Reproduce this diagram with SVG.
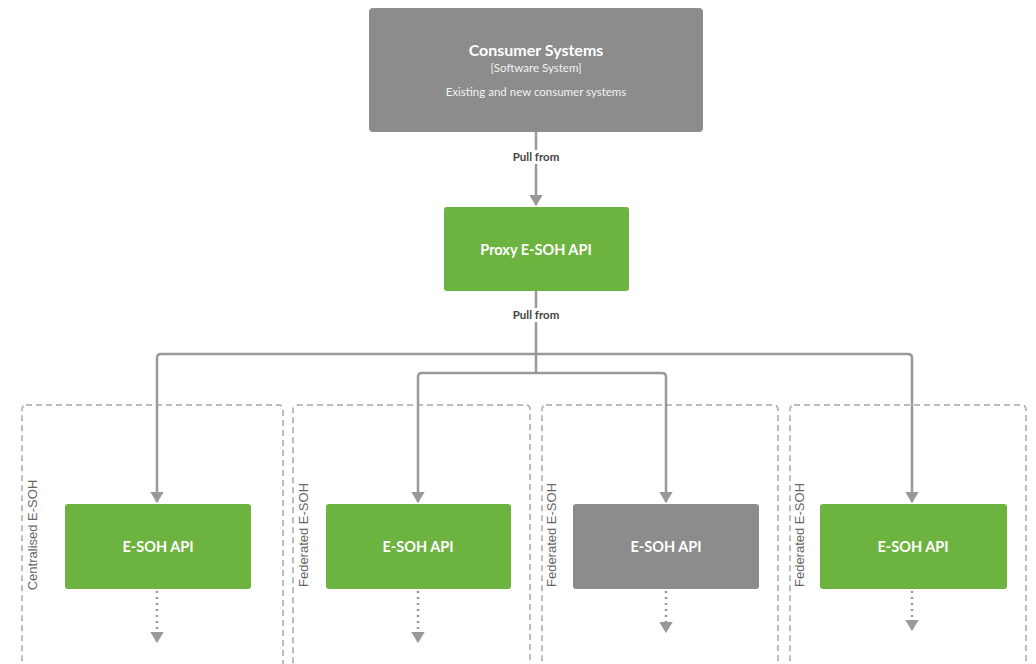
<svg xmlns="http://www.w3.org/2000/svg" width="1036" height="664" viewBox="0 0 1036 664">
<style>
.node{stroke:none}
.gray{fill:#8c8c8c}
.green{fill:#6db33f}
.ttl{font-family:Lato,"Open Sans",sans-serif;font-weight:bold;fill:#fff;text-anchor:middle}
.sub{font-family:Lato,"Open Sans",sans-serif;fill:#f2f2f2;text-anchor:middle;font-size:11.5px}
.bnd{fill:none;stroke:#a8a8a8;stroke-width:1.5;stroke-dasharray:6 4}
.blbl{font-family:"Liberation Sans",Arial,sans-serif;font-size:13px;fill:#666}
.con{fill:none;stroke:#999;stroke-width:2.5;stroke-linejoin:round}
.dot{fill:none;stroke:#999;stroke-width:2.5;stroke-dasharray:2 4}
.lbl{font-family:Lato,"Open Sans",sans-serif;font-size:11.5px;font-weight:bold;fill:#444;text-anchor:middle}
</style>
<defs>
<marker id="ah" viewBox="0 0 10 12" refX="9" refY="6" markerWidth="4.5" markerHeight="5.4" orient="auto" markerUnits="strokeWidth">
<path d="M0,0 L10,6 L0,12 z" fill="#999"/>
</marker>
</defs>
<rect width="1036" height="664" fill="#fff"/>

<g id="boundaries">
<g id="b-centralised"><rect class="bnd" x="22" y="405" width="261" height="262" rx="4"/><text class="blbl" transform="translate(37,535) rotate(-90)" text-anchor="middle">Centralised E-SOH</text></g>
<g id="b-fed1"><rect class="bnd" x="293" y="405" width="237" height="262" rx="4"/><text class="blbl" transform="translate(308,535) rotate(-90)" text-anchor="middle">Federated E-SOH</text></g>
<g id="b-fed2"><rect class="bnd" x="542" y="405" width="236" height="262" rx="4"/><text class="blbl" transform="translate(556,535) rotate(-90)" text-anchor="middle">Federated E-SOH</text></g>
<g id="b-fed3"><rect class="bnd" x="790" y="405" width="236" height="262" rx="4"/><text class="blbl" transform="translate(804,535) rotate(-90)" text-anchor="middle">Federated E-SOH</text></g>
</g>

<g id="connectors">
<path class="con" d="M536,132 V205" marker-end="url(#ah)"/>
<rect x="506" y="150" width="60" height="14" fill="#fff"/>
<text class="lbl" x="536" y="161">Pull from</text>
<path class="con" d="M536,291 V373"/>
<rect x="506" y="308" width="60" height="14" fill="#fff"/>
<text class="lbl" x="536" y="319">Pull from</text>
<path class="con" d="M536,354 H161 Q157,354 157,358 V502" marker-end="url(#ah)"/>
<path class="con" d="M536,354 H908 Q912,354 912,358 V502" marker-end="url(#ah)"/>
<path class="con" d="M536,373 H422 Q418,373 418,377 V502" marker-end="url(#ah)"/>
<path class="con" d="M536,373 H662 Q666,373 666,377 V502" marker-end="url(#ah)"/>
<path class="dot" d="M157,591 V642" marker-end="url(#ah)"/>
<path class="dot" d="M418,591 V642" marker-end="url(#ah)"/>
<path class="dot" d="M666,591 V632" marker-end="url(#ah)"/>
<path class="dot" d="M912,591 V630" marker-end="url(#ah)"/>
</g>

<g id="consumer-systems">
<rect class="node gray" x="369" y="8" width="334" height="124" rx="4"/>
<text class="ttl" x="536" y="56" font-size="16">Consumer Systems</text>
<text class="sub" x="536" y="72">[Software System]</text>
<text class="sub" x="536" y="96">Existing and new consumer systems</text>
</g>

<g id="proxy-api">
<rect class="node green" x="444" y="207" width="185" height="84" rx="3"/>
<text class="ttl" x="536" y="255" font-size="14.5">Proxy E-SOH API</text>
</g>

<g id="esoh-centralised">
<rect class="node green" x="65" y="504" width="186" height="85" rx="3"/>
<text class="ttl" x="158" y="552" font-size="14.5">E-SOH API</text>
</g>
<g id="esoh-fed1">
<rect class="node green" x="326" y="504" width="185" height="85" rx="3"/>
<text class="ttl" x="418" y="552" font-size="14.5">E-SOH API</text>
</g>
<g id="esoh-fed2">
<rect class="node gray" x="573" y="504" width="186" height="85" rx="3"/>
<text class="ttl" x="666" y="552" font-size="14.5">E-SOH API</text>
</g>
<g id="esoh-fed3">
<rect class="node green" x="820" y="504" width="187" height="85" rx="3"/>
<text class="ttl" x="913" y="552" font-size="14.5">E-SOH API</text>
</g>
</svg>
